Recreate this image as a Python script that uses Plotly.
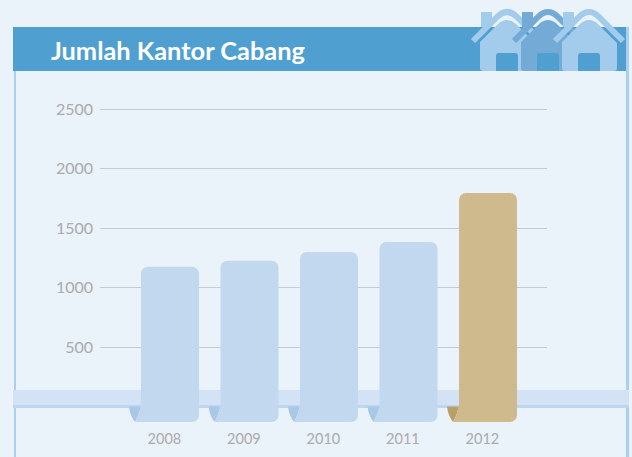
import plotly.graph_objects as go

years = [2008, 2009, 2010, 2011, 2012]
branches = [1175, 1225, 1298, 1382, 1795]
bar_colors = ["#C2D8EF", "#C2D8EF", "#C2D8EF", "#C2D8EF", "#CFBA8E"]
fold_colors = ["#A9C8E6", "#A9C8E6", "#A9C8E6", "#A9C8E6", "#BA9F68"]
y_ticks = [500, 1000, 1500, 2000, 2500]
title_text = "Jumlah Kantor Cabang"

W, H = 632, 457
BG = "#EAF2FA"
HEADER = "#4F9FD0"
BASE = -130
X_STEP = 79.5        # px per year
Y_STEP = 59.5 / 500  # px per unit
X_2008 = 170
Y_ZERO = 406.5


def px(x):
    return x / W


def py(y):
    return 1 - y / H


def paper_path(points):
    """points: list of command strings with pixel pairs"""
    out = []
    for cmd, *pairs in points:
        coords = " ".join(f"{px(a):.5f},{py(b):.5f}" for a, b in pairs)
        out.append(f"{cmd}{coords}")
    return " ".join(out) + " Z"


shapes = []


def rect(x0, y0, x1, y1, color, layer="below"):
    shapes.append(dict(type="rect", xref="paper", yref="paper", x0=px(x0), x1=px(x1),
                       y0=py(y0), y1=py(y1), fillcolor=color, line_width=0, layer=layer))


# frame and header
rect(14, 71, 16, H, "#A9D0F0")
rect(626, 27, 629, H, "#A9D0F0")
rect(13, 27, 626, 71, HEADER)
# ribbon behind the bars
rect(13, 390, 629, 405, "#D3E3F5")
rect(13, 405, 629, 408, "#BDD7F0")


def house(dx, color):
    # chimney
    rect(481 + dx, 12, 492 + dx, 27, color, "above")
    # body
    shapes.append(dict(type="path", xref="paper", yref="paper", layer="above", line_width=0,
                       fillcolor=color, path=paper_path([
                           ("M", (480 + dx, 42)),
                           ("L", (498 + dx, 24)),
                           ("Q", (507 + dx, 16), (516 + dx, 24)),
                           ("L", (535 + dx, 43)),
                           ("L", (535 + dx, 68)),
                           ("Q", (535 + dx, 71), (532 + dx, 71)),
                           ("L", (483 + dx, 71)),
                           ("Q", (480 + dx, 71), (480 + dx, 68)),
                       ])))
    # door
    shapes.append(dict(type="path", xref="paper", yref="paper", layer="above", line_width=0,
                       fillcolor=HEADER, path=paper_path([
                           ("M", (496 + dx, 71)),
                           ("L", (496 + dx, 56)),
                           ("Q", (496 + dx, 53), (499 + dx, 53)),
                           ("L", (515 + dx, 53)),
                           ("Q", (518 + dx, 53), (518 + dx, 56)),
                           ("L", (518 + dx, 71)),
                       ])))
    # roof stroke (open path, round look from the thick line)
    roof = paper_path([
        ("M", (473 + dx, 41)),
        ("L", (497 + dx, 17)),
        ("Q", (507 + dx, 7), (517 + dx, 17)),
        ("L", (541 + dx, 41)),
    ]).replace(" Z", "")
    shapes.append(dict(type="path", xref="paper", yref="paper", layer="above",
                       fillcolor="rgba(0,0,0,0)", path=roof,
                       line=dict(color=color, width=6)))


house(0, "#A3CBEC")
house(41, "#74ABD6")
house(82, "#A3CBEC")


# folded lower-left corner of every bar, drawn in data coordinates
def dx_years(p):
    return p / X_STEP


def dy_units(p):
    return p / Y_STEP


half = 29
for yr, bar_c, fold_c in zip(years, bar_colors, fold_colors):
    left = yr - dx_years(half)
    p = lambda off_x, off_y: f"{left + dx_years(off_x):.4f},{-dy_units(off_y):.2f}"
    shapes.append(dict(type="path", xref="x", yref="y", layer="above", line_width=0,
                       fillcolor=fold_c,
                       path=f"M{p(-12, 0)} Q{p(-11, 9)} {p(-6, 15.5)} Q{p(-2, 9)} {p(0, 0)} Z"))
    shapes.append(dict(type="path", xref="x", yref="y", layer="above", line_width=0,
                       fillcolor=bar_c,
                       path=f"M{p(0, -1)} Q{p(-2, 9)} {p(-6, 15.5)} L{p(8, 15.5)} L{p(8, -1)} Z"))

fig = go.Figure(go.Bar(
    x=years,
    y=[v - BASE for v in branches],
    base=BASE,
    width=58 / X_STEP,
    marker=dict(color=bar_colors, line_width=0, cornerradius=7),
    hoverinfo="skip",
))

fig.update_layout(
    width=W, height=H, margin=dict(l=0, r=0, t=0, b=0),
    paper_bgcolor=BG, plot_bgcolor="rgba(0,0,0,0)",
    showlegend=False, shapes=shapes,
    font=dict(family="Lato"),
    annotations=[dict(text=title_text, xref="paper", yref="paper", x=px(48.5), y=py(49.5),
                      xanchor="left", yanchor="middle", showarrow=False,
                      font=dict(family="Lato", size=25.4, color="white", weight=700))],
    xaxis=dict(
        domain=[px(100), px(547)],
        range=[2008 + (100 - X_2008) / X_STEP, 2008 + (547 - X_2008) / X_STEP],
        tickmode="array", tickvals=[y - 0.07 for y in years], ticktext=[str(y) for y in years],
        showgrid=False, zeroline=False, showline=False, ticks="",
        tickfont=dict(size=14.5, color="#ABABAB"),
        ticklabelstandoff=6,
    ),
    yaxis=dict(
        domain=[py(422), py(97)],
        range=[BASE, (Y_ZERO - 97) / Y_STEP],
        tickmode="array", tickvals=y_ticks,
        showgrid=True, gridcolor="#C5CBD3", gridwidth=1, zeroline=False, showline=False, ticks="",
        tickfont=dict(size=16, color="#ABABAB"),
        ticklabelstandoff=6,
    ),
)

fig.write_html("out.html", config={"displayModeBar": False},
               post_script="document.body.style.margin='0';")
